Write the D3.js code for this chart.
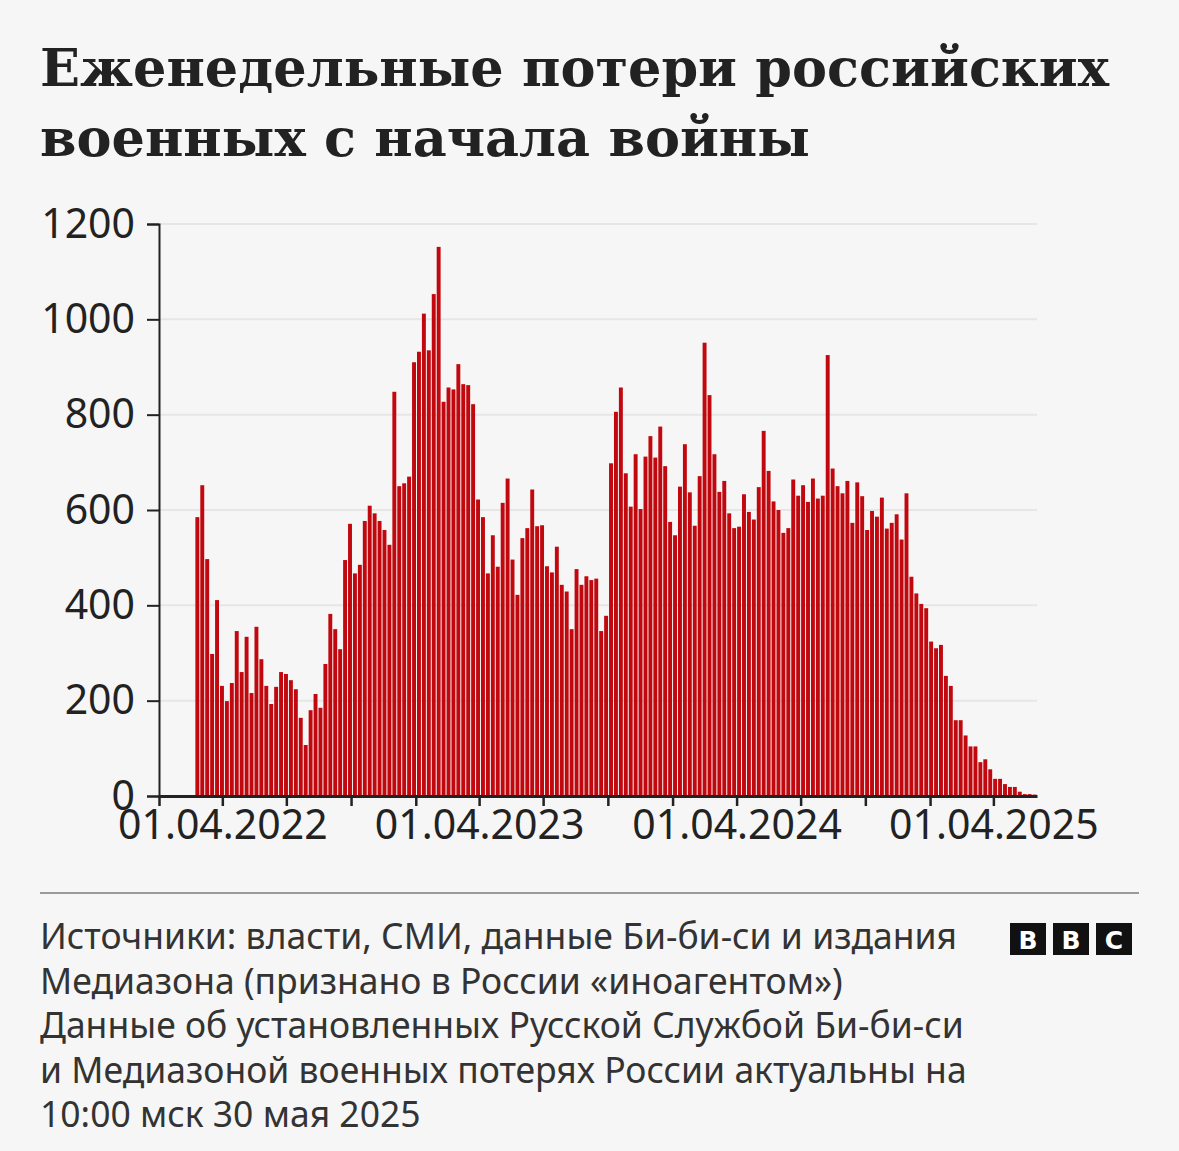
<!DOCTYPE html>
<html>
<head>
<meta charset="utf-8">
<script src="https://cdn.jsdelivr.net/npm/d3@7"></script>
<style>
  body { margin: 0; background: #f6f6f6; }
  svg { display: block; }
</style>
</head>
<body>
<svg id="chart" width="1179" height="1151"></svg>
<script>
// weekly losses, first week starting 21.02.2022
const firstWeek = "2022-02-21";
const losses = [
  585, 652, 497, 298, 411, 231, 199, 237, 346, 260, 334, 216, 355, 287, 231, 193, 229, 260, 256, 243,
  224, 164, 107, 180, 214, 185, 277, 382, 350, 308, 495,
  571, 467, 485, 577, 609, 593, 577, 558, 527, 848, 650, 656, 670, 910, 932, 1012, 935, 1053, 1152,
  827, 857, 853, 906, 864, 862, 822, 622, 585,
  467, 547, 481, 615, 666, 496, 422, 541, 562, 643, 566, 568, 482, 469, 523, 443, 429, 350, 476, 443,
  461, 453, 456, 346, 378, 698, 806, 857,
  677, 607, 717, 602, 712, 755, 710, 775, 692, 575, 547, 649, 738, 637, 567, 671, 951, 841, 717, 638,
  661, 593, 562, 565,
  633, 596, 580, 648, 766, 682, 618, 600, 552, 562, 664, 630, 652, 617, 666, 624, 630, 925, 687, 650,
  635, 661, 573, 658, 629, 558, 598, 586,
  626, 561, 573, 591, 538, 635, 460, 425, 403, 394, 324, 310, 317, 252, 231, 159, 159, 127, 104, 104,
  71, 77, 56, 36, 36, 25, 19, 19, 9, 4, 4, 3
];
const yTicks = [0, 200, 400, 600, 800, 1000, 1200];
const titleLines = ["Еженедельные потери российских", "военных с начала войны"];
const sourceLines = [
  "Источники: власти, СМИ, данные Би-би-си и издания",
  "Медиазона (признано в России «иноагентом»)",
  "Данные об установленных Русской Службой Би-би-си",
  "и Медиазоной военных потерях России актуальны на",
  "10:00 мск 30 мая 2025"
];

const svg = d3.select("#chart");
const parse = d3.utcParse("%Y-%m-%d");
const start = parse(firstWeek);
const data = losses.map((v, i) => ({ date: d3.utcDay.offset(start, i * 7), value: v }));

const x = d3.scaleUtc()
  .domain([parse("2022-01-01"), parse("2025-06-02")])
  .range([159, 1037]);
const y = d3.scaleLinear().domain([0, 1200]).range([796, 224]);

// title
svg.append("g").selectAll("text")
  .data(titleLines).enter().append("text")
  .attr("x", 40).attr("y", (d, i) => 86 + i * 70)
  .style("font-family", "'DejaVu Serif', serif")
  .style("font-weight", "bold")
  .style("font-size", "52.5px")
  .style("fill", "#222")
  .text(d => d);

// gridlines
svg.append("g").selectAll("line")
  .data(yTicks.slice(1)).enter().append("line")
  .attr("x1", 159).attr("x2", 1037)
  .attr("y1", d => y(d)).attr("y2", d => y(d))
  .style("stroke", "#e6e6e6").style("stroke-width", 2);

// bars
svg.append("g").selectAll("rect")
  .data(data).enter().append("rect")
  .attr("x", d => x(d.date) + 0.5)
  .attr("width", d => x(d3.utcDay.offset(d.date, 7)) - x(d.date) - 1)
  .attr("y", d => y(d.value))
  .attr("height", d => y(0) - y(d.value))
  .style("fill", "#c0080e");

// y axis
const yAxis = svg.append("g")
  .attr("transform", "translate(159,0)")
  .call(d3.axisLeft(y).tickValues(yTicks).tickSize(12).tickPadding(12).tickFormat(d3.format("d")));
yAxis.select(".domain").style("stroke", "#222").style("stroke-width", 2);
yAxis.selectAll("line").style("stroke", "#222").style("stroke-width", 2);
yAxis.selectAll("text")
  .style("font-family", "'Noto Sans', sans-serif")
  .style("font-size", "41px").style("fill", "#222");

// x axis: quarter ticks, labels on 1 April only
const xAxis = svg.append("g")
  .attr("transform", "translate(0,796)")
  .call(d3.axisBottom(x)
    .ticks(d3.utcMonth.every(3))
    .tickSize(10).tickPadding(4)
    .tickSizeOuter(0)
    .tickFormat(d => d.getUTCMonth() === 3 ? d3.utcFormat("%d.%m.%Y")(d) : ""));
xAxis.select(".domain").style("stroke", "#222").style("stroke-width", 3);
xAxis.selectAll("line").style("stroke", "#222").style("stroke-width", 2.5);
xAxis.selectAll("text")
  .style("font-family", "'Noto Sans', sans-serif")
  .style("font-size", "41px").style("fill", "#222");

// footer
svg.append("line")
  .attr("x1", 40).attr("x2", 1139).attr("y1", 893).attr("y2", 893)
  .style("stroke", "#999").style("stroke-width", 2);

svg.append("g").selectAll("text")
  .data(sourceLines).enter().append("text")
  .attr("x", 40).attr("y", (d, i) => 949 + i * 44.5)
  .style("font-family", "'Noto Sans', sans-serif")
  .style("font-size", "35.5px")
  .style("fill", "#333")
  .text(d => d);

const logo = svg.append("g").selectAll("g")
  .data(["B", "B", "C"]).enter().append("g")
  .attr("transform", (d, i) => `translate(${1010 + i * 43},923)`);
logo.append("rect").attr("width", 36).attr("height", 32).style("fill", "#111");
logo.append("text")
  .attr("x", 18).attr("y", 26).attr("text-anchor", "middle")
  .style("font-family", "'DejaVu Sans', sans-serif")
  .style("font-weight", "bold").style("font-size", "25px")
  .style("fill", "#fff")
  .text(d => d);
</script>
</body>
</html>
